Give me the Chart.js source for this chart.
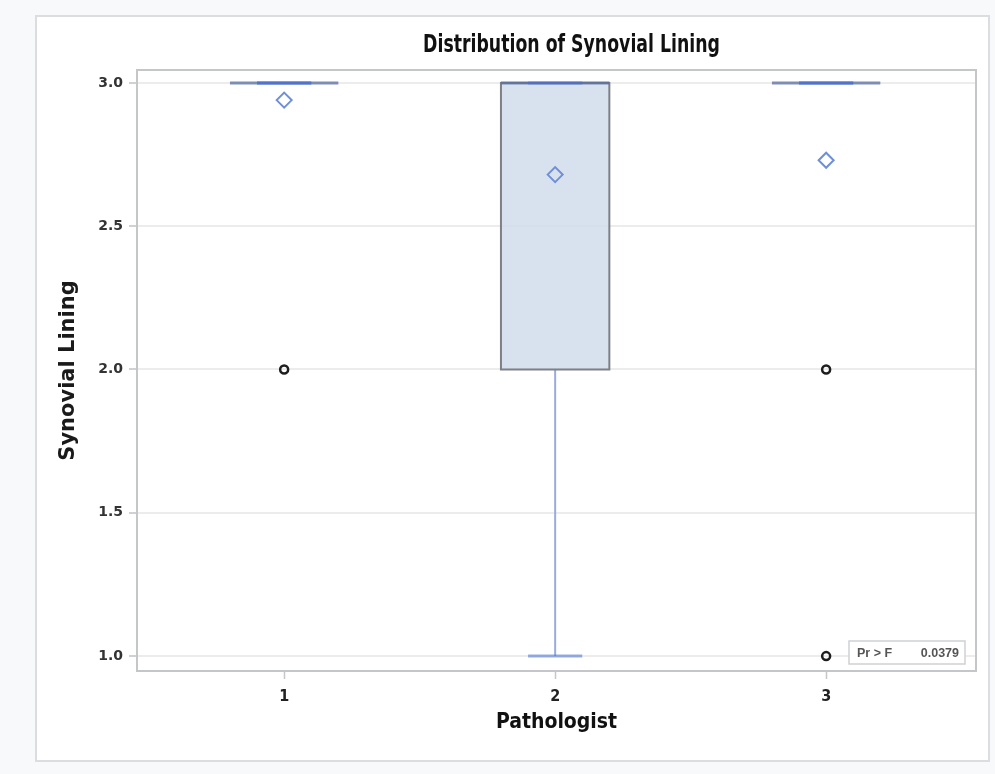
<!DOCTYPE html>
<html>
<head>
<meta charset="utf-8">
<script src="https://cdn.jsdelivr.net/npm/chart.js@4.4.0/dist/chart.umd.min.js"></script>
<style>
    html, body { margin: 0; padding: 0; background: #f8f9fb; }
    #frame {
        position: absolute; left: 35px; top: 15px; width: 951px; height: 743px;
        background: #fff; border: 2px solid #dcdde0;
    }
    #wrap { position: absolute; left: 0; top: 0; width: 995px; height: 774px; }
</style>
</head>
<body>
<div id="frame"></div>
<div id="wrap"><canvas id="boxChart"></canvas></div>
<script>
// Distribution of Synovial Lining - box plot per pathologist

const categories = [1, 2, 3];
const q1 = [3, 2, 3];
const medians = [3, 3, 3];
const q3 = [3, 3, 3];
const whiskerLow = [3, 1, 3];
const whiskerHigh = [3, 3, 3];
const means = [2.94, 2.68, 2.73];
const outliers = [[2], [], [2, 1]];
const yTicks = [1.0, 1.5, 2.0, 2.5, 3.0];
const titleText = 'Distribution of Synovial Lining';
const insetLabel = 'Pr > F';
const insetValue = '0.0379';

const narrow = "'DejaVu Sans Condensed', 'Liberation Sans Narrow', sans-serif";
const wide = "'DejaVu Sans', Verdana, sans-serif";
const BOX_HALF = 0.2;
const CAP_HALF = 0.1;

// box, whiskers and median drawn through the chart scales
const boxPlugin = {
    id: 'boxes',
    beforeDatasetsDraw(chart) {
        const { ctx, scales: { x, y } } = chart;
        ctx.save();
        categories.forEach((cat, i) => {
            const xl = x.getPixelForValue(cat - BOX_HALF);
            const xr = x.getPixelForValue(cat + BOX_HALF);
            const xc = x.getPixelForValue(cat);
            const cl = x.getPixelForValue(cat - CAP_HALF);
            const cr = x.getPixelForValue(cat + CAP_HALF);
            const yq1 = y.getPixelForValue(q1[i]);
            const yq3 = y.getPixelForValue(q3[i]);

            // whiskers
            ctx.strokeStyle = '#98acde';
            ctx.lineWidth = 2;
            ctx.beginPath();
            ctx.moveTo(xc, yq1);
            ctx.lineTo(xc, y.getPixelForValue(whiskerLow[i]));
            ctx.moveTo(xc, yq3);
            ctx.lineTo(xc, y.getPixelForValue(whiskerHigh[i]));
            ctx.stroke();

            // box
            if (yq1 - yq3 > 0.5) {
                ctx.fillStyle = 'rgba(208,218,234,0.82)';
                ctx.fillRect(xl, yq3, xr - xl, yq1 - yq3);
                ctx.strokeStyle = '#7d8085';
                ctx.lineWidth = 2;
                ctx.strokeRect(xl, yq3, xr - xl, yq1 - yq3);
            }

            // median
            const ym = y.getPixelForValue(medians[i]);
            ctx.strokeStyle = 'rgba(90,110,160,0.75)';
            ctx.lineWidth = 3;
            ctx.beginPath();
            ctx.moveTo(xl, ym);
            ctx.lineTo(xr, ym);
            ctx.stroke();

            // caps
            ctx.strokeStyle = 'rgba(70,110,210,0.55)';
            ctx.lineWidth = 3;
            [whiskerLow[i], whiskerHigh[i]].forEach(v => {
                const yv = y.getPixelForValue(v);
                ctx.beginPath();
                ctx.moveTo(cl, yv);
                ctx.lineTo(cr, yv);
                ctx.stroke();
            });
        });
        ctx.restore();
    },
    afterDraw(chart) {
        const { ctx, chartArea: a } = chart;
        ctx.save();
        // plot frame
        ctx.strokeStyle = '#c4c6c9';
        ctx.lineWidth = 2;
        ctx.strokeRect(a.left, a.top, a.right - a.left, a.bottom - a.top);

        // title (squeezed to mimic a condensed face)
        ctx.save();
        ctx.translate((a.left + a.right) / 2 + 15, 45);
        ctx.scale(0.77, 1);
        ctx.fillStyle = '#111';
        ctx.font = "bold 25px " + narrow;
        ctx.textAlign = 'center';
        ctx.textBaseline = 'middle';
        ctx.fillText(titleText, 0, 0);
        ctx.restore();

        // inset statistic
        const bw = 116, bh = 23;
        const bx = a.right - 11 - bw, by = a.bottom - 7 - bh;
        ctx.fillStyle = '#fff';
        ctx.fillRect(bx, by, bw, bh);
        ctx.strokeStyle = '#cfd1d4';
        ctx.lineWidth = 1.5;
        ctx.strokeRect(bx, by, bw, bh);
        ctx.fillStyle = '#555';
        ctx.font = "bold 12.5px 'Liberation Sans', Arial, sans-serif";
        ctx.textAlign = 'left';
        ctx.textBaseline = 'middle';
        ctx.fillText(insetLabel, bx + 8, by + bh / 2 + 1);
        ctx.textAlign = 'right';
        ctx.fillText(insetValue, bx + bw - 6, by + bh / 2 + 1);
        ctx.restore();
    }
};

function buildPoints() {
    const pts = [];
    categories.forEach((cat, i) => {
        outliers[i].forEach(v => pts.push({ x: cat, y: v }));
    });
    return pts;
}

document.addEventListener('DOMContentLoaded', function() {
    const ctx = document.getElementById('boxChart');
    new Chart(ctx, {
        type: 'scatter',
        data: {
            datasets: [
                {
                    label: 'Mean',
                    data: categories.map((c, i) => ({ x: c, y: means[i] })),
                    pointStyle: 'rectRot',
                    radius: 7.5,
                    borderWidth: 2,
                    borderColor: '#6f8fd6',
                    backgroundColor: 'rgba(255,255,255,0)'
                },
                {
                    label: 'Outliers',
                    data: buildPoints(),
                    pointStyle: 'circle',
                    radius: 4,
                    borderWidth: 2.5,
                    borderColor: '#1e1e1e',
                    backgroundColor: 'rgba(255,255,255,0)'
                }
            ]
        },
        options: {
            responsive: true,
            maintainAspectRatio: false,
            animation: false,
            layout: { padding: { left: 40, right: 19, top: 70, bottom: 20 } },
            plugins: {
                legend: { display: false },
                tooltip: { enabled: false }
            },
            scales: {
                x: {
                    type: 'linear',
                    min: 0.457,
                    max: 3.553,
                    afterBuildTicks: s => { s.ticks = categories.map(v => ({ value: v })); },
                    afterFit: s => { s.height = 83; },
                    grid: { drawOnChartArea: false, tickLength: 8, tickColor: '#c4c6c9', tickWidth: 1.5 },
                    border: { display: false },
                    ticks: {
                        color: '#222',
                        padding: 8,
                        font: { family: narrow, size: 16, weight: 'bold' },
                        callback: v => String(v)
                    },
                    title: {
                        display: true,
                        text: 'Pathologist',
                        color: '#111',
                        padding: { top: 0, bottom: 19 },
                        font: { family: narrow, size: 21, weight: 'bold' }
                    }
                },
                y: {
                    min: 0.948,
                    max: 3.045,
                    afterBuildTicks: s => { s.ticks = yTicks.map(v => ({ value: v })); },
                    afterFit: s => { s.width = 97; },
                    grid: { color: '#ececec', lineWidth: 2, tickLength: 8, tickColor: '#cfd1d4', tickWidth: 2 },
                    border: { display: false },
                    ticks: {
                        color: '#333',
                        padding: 6,
                        font: { family: wide, size: 14, weight: 'bold' },
                        callback: v => v.toFixed(1)
                    },
                    title: {
                        display: true,
                        text: 'Synovial Lining',
                        color: '#1a1a1a',
                        padding: { top: 16, bottom: 0 },
                        font: { family: wide, size: 21, weight: 'bold' }
                    }
                }
            }
        },
        plugins: [boxPlugin]
    });
});
</script>
</body>
</html>
